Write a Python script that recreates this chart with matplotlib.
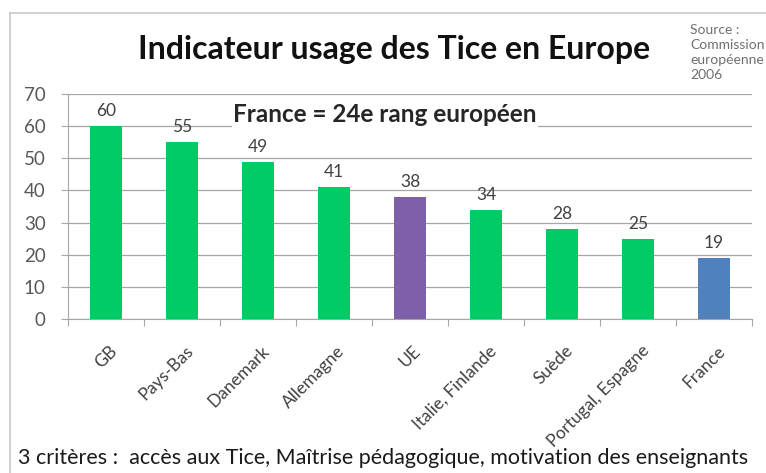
import matplotlib
matplotlib.use("Agg")
import matplotlib.pyplot as plt
from matplotlib.lines import Line2D

categories = ["GB", "Pays-Bas", "Danemark", "Allemagne", "UE", "Italie, Finlande",
              "Suède", "Portugal, Espagne", "France"]
values = [60, 55, 49, 41, 38, 34, 28, 25, 19]
bar_colors = ["#00CC66", "#00CC66", "#00CC66", "#00CC66", "#7F5FA8",
              "#00CC66", "#00CC66", "#00CC66", "#4F81BD"]
yticks = [0, 10, 20, 30, 40, 50, 60, 70]

plt.rcParams['font.family'] = ['Lato', 'DejaVu Sans']

fig = plt.figure(figsize=(7.66, 4.73), dpi=100)
fig.patch.set_facecolor("white")

# outer frame
fig.add_artist(Line2D([10/766, 10/766], [0, 1 - 13/473], color="#C8C8C8", lw=1.2,
                      transform=fig.transFigure))
fig.add_artist(Line2D([10/766, 1], [1 - 13/473, 1 - 13/473], color="#C8C8C8", lw=1.2,
                      transform=fig.transFigure))

ax = fig.add_axes([68/766, 1 - 319/473, (752 - 68)/766, (319 - 94)/473])
x = list(range(len(categories)))
ax.bar(x, values, width=0.41, color=bar_colors, zorder=3)
ax.set_xlim(-0.5, len(categories) - 0.5)
ax.set_ylim(0, 70)
ax.set_yticks(yticks)
ax.set_yticklabels([str(t) for t in yticks], fontsize=13.5, color="#595959")
ax.yaxis.grid(True, color="#A6A6A6", lw=0.9, zorder=0)
ax.set_axisbelow(True)
for s in ["top", "right"]:
    ax.spines[s].set_visible(False)
for s in ["left", "bottom"]:
    ax.spines[s].set_color("#A6A6A6")
ax.tick_params(axis="y", length=5, color="#A6A6A6", pad=11)

# category ticks at boundaries
ax.set_xticks([i - 0.5 for i in range(len(categories) + 1)])
ax.set_xticklabels([])
ax.tick_params(axis="x", length=5, color="#A6A6A6")
for i, c in enumerate(categories):
    ax.annotate(c, xy=(i, 0), xycoords="data", xytext=(2, -17), textcoords="offset points",
                rotation=45, ha="right", va="top", rotation_mode="anchor",
                fontsize=12.5, color="#404040")

for i, v in enumerate(values):
    ax.annotate(str(v), xy=(i, v), xytext=(0, 5), textcoords="offset points",
                ha="center", va="bottom", fontsize=12.5, color="#404040")

fig.text(394/766, 1 - 50/473, "Indicateur usage des Tice en Europe", ha="center", va="center",
         fontsize=23, fontweight="bold", color="#111111")
fig.text(385/766, 1 - 115/473, "France = 24e rang européen",
         ha="center", va="center", fontsize=17.5, fontweight="bold", color="#262626",
         bbox=dict(facecolor="white", edgecolor="none", pad=1), zorder=4)
fig.text(690/766, 1 - 24/473, "Source :\nCommission\neuropéenne\n2006", ha="left", va="top",
         fontsize=10, color="#707070", linespacing=1.3)
fig.text(383/766, 1 - 458/473,
         "3 critères :  accès aux Tice, Maîtrise pédagogique, motivation des enseignants",
         ha="center", va="center", fontsize=15.5, color="#1a1a1a")

fig.savefig("out.png", dpi=100)
